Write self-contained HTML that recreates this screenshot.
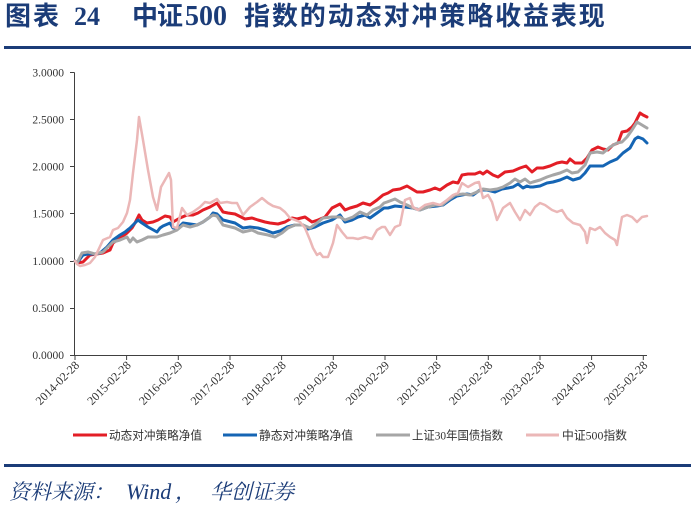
<!DOCTYPE html>
<html><head><meta charset="utf-8"><style>
html,body{margin:0;padding:0;background:#fff;}
body{width:691px;height:510px;position:relative;overflow:hidden;}
.t{position:absolute;white-space:nowrap;color:#1B3C78;font-weight:bold;font-family:"Liberation Serif","Noto Sans CJK SC",sans-serif;font-size:26px;line-height:26px;top:4px;}
.s{position:absolute;white-space:nowrap;color:#1B3C78;font-family:"Liberation Serif","Noto Serif CJK SC",serif;font-size:21px;line-height:22px;top:481px;transform:skewX(-14deg);transform-origin:0 100%;}
.si{position:absolute;white-space:nowrap;color:#1B3C78;font-style:italic;font-family:"Liberation Serif",serif;font-size:22px;line-height:22px;top:481px;}
</style></head><body>
<div class="t" style="left:5px;letter-spacing:2px;">图表</div>
<div class="t" style="left:74px;">24</div>
<div class="t" style="left:132px;letter-spacing:-1px;">中证</div>
<div class="t" style="left:185px;font-size:28px;">500</div>
<div class="t" style="left:244px;letter-spacing:1.9px;">指数的动态对冲策略收益表现</div>
<div style="position:absolute;left:4px;top:46px;width:687px;height:3px;background:#1B3C78;"></div>
<div style="position:absolute;left:4px;top:464px;width:687px;height:3px;background:#1B3C78;"></div>
<div class="s" style="left:8px;">资料来源：</div>
<div class="si" style="left:126px;">Wind</div>
<div class="s" style="left:174px;">，</div>
<div class="s" style="left:209px;">华创证券</div>
<svg width="691" height="510" style="position:absolute;left:0;top:0;" xmlns="http://www.w3.org/2000/svg">
<g stroke="#404040" stroke-width="1" fill="none">
<line x1="74.5" y1="72.5" x2="74.5" y2="355.5"/>
<line x1="74" y1="355.5" x2="647" y2="355.5"/>
<line x1="70" y1="72.5" x2="74.5" y2="72.5"/>
<line x1="70" y1="119.5" x2="74.5" y2="119.5"/>
<line x1="70" y1="166.5" x2="74.5" y2="166.5"/>
<line x1="70" y1="213.5" x2="74.5" y2="213.5"/>
<line x1="70" y1="261.5" x2="74.5" y2="261.5"/>
<line x1="70" y1="308.5" x2="74.5" y2="308.5"/>
<line x1="70" y1="355.5" x2="74.5" y2="355.5"/>
<line x1="75" y1="355" x2="75" y2="360"/>
<line x1="126.6" y1="355" x2="126.6" y2="360"/>
<line x1="178.3" y1="355" x2="178.3" y2="360"/>
<line x1="230" y1="355" x2="230" y2="360"/>
<line x1="281.6" y1="355" x2="281.6" y2="360"/>
<line x1="333.3" y1="355" x2="333.3" y2="360"/>
<line x1="385" y1="355" x2="385" y2="360"/>
<line x1="436.6" y1="355" x2="436.6" y2="360"/>
<line x1="488.3" y1="355" x2="488.3" y2="360"/>
<line x1="540" y1="355" x2="540" y2="360"/>
<line x1="591.6" y1="355" x2="591.6" y2="360"/>
<line x1="643.3" y1="355" x2="643.3" y2="360"/>
</g>
<g font-family="Liberation Serif, serif" font-size="11.5" fill="#333" text-anchor="end">
<text x="64" y="76.5">3.0000</text>
<text x="64" y="123.5">2.5000</text>
<text x="64" y="170.5">2.0000</text>
<text x="64" y="217.5">1.5000</text>
<text x="64" y="265">1.0000</text>
<text x="64" y="312">0.5000</text>
<text x="64" y="359">0.0000</text>
</g>
<g font-family="Liberation Serif, serif" font-size="12" fill="#333" text-anchor="end">
<text transform="translate(80,366) rotate(-45)">2014-02-28</text>
<text transform="translate(131.6,366) rotate(-45)">2015-02-28</text>
<text transform="translate(183.3,366) rotate(-45)">2016-02-29</text>
<text transform="translate(235,366) rotate(-45)">2017-02-28</text>
<text transform="translate(286.6,366) rotate(-45)">2018-02-28</text>
<text transform="translate(338.3,366) rotate(-45)">2019-02-28</text>
<text transform="translate(390,366) rotate(-45)">2020-02-29</text>
<text transform="translate(441.6,366) rotate(-45)">2021-02-28</text>
<text transform="translate(493.3,366) rotate(-45)">2022-02-28</text>
<text transform="translate(545,366) rotate(-45)">2023-02-28</text>
<text transform="translate(596.6,366) rotate(-45)">2024-02-29</text>
<text transform="translate(648.3,366) rotate(-45)">2025-02-28</text>
</g>
<g fill="none" stroke-linejoin="round" stroke-linecap="round">
<polyline stroke="#E31E26" stroke-width="3" points="75,261 77,263 83,262 90,255 103,253 110,250 113,243 120,238 127,233 132,228 135,223 139,215 142,220 147,223 153,222 158,220 165,216 170,217 173,222 180,218 187,215 193,215 198,213 203,210 210,207 217,203 223,212 228,213 235,214 245,219 252,218 258,220 265,222 270,223 278,224 285,222 292,218 297,219 305,217 312,222 318,220 325,217 332,208 340,204 345,210 350,208 357,206 363,203 370,205 377,200 383,195 388,193 393,190 400,189 407,186 412,189 417,192 423,192 430,190 435,188 440,190 447,185 453,182 458,183 462,175 468,174 475,174 480,172 483,174 487,171 493,175 498,177 505,172 513,171 520,168 526,166 530,170 532,172 537,168 543,168 550,166 557,163 562,162 567,163 570,159 575,163 582,163 587,158 592,150 598,147 603,149 608,150 613,145 618,143 622,132 627,131 632,127 635,123 640,113 643,115 647,117"/>
<polyline stroke="#1565B4" stroke-width="3" points="75,261 77,263 83,255 88,254 95,254 100,253 107,247 113,240 120,235 125,232 130,228 135,223 138,220 142,223 148,227 157,232 160,228 163,226 170,223 173,228 178,228 183,223 190,224 197,225 203,222 210,217 213,213 217,214 223,220 235,223 243,228 250,227 258,228 265,230 273,233 280,231 287,227 295,225 303,225 308,229 315,227 323,223 332,220 340,215 345,222 352,220 358,217 365,215 370,218 377,213 384,208 388,208 395,206 405,207 413,208 420,210 428,207 437,206 443,205 450,200 457,196 467,194 473,195 480,190 487,190 495,192 502,189 508,188 513,187 518,184 523,188 527,186 530,187 533,187 540,186 547,183 553,182 560,180 567,177 573,180 580,178 585,173 590,166 597,166 603,166 610,162 617,159 623,153 630,148 635,139 638,137 643,139 647,143"/>
<polyline stroke="#A6A6A6" stroke-width="3" points="75,261 77,263 82,253 88,252 95,254 103,252 113,242 120,240 127,237 130,242 133,238 137,242 142,240 148,237 157,237 163,235 170,233 177,230 183,225 190,227 197,225 203,222 210,217 213,215 217,216 223,225 235,228 243,232 252,230 258,233 268,235 275,237 282,233 288,228 295,225 303,225 310,228 317,223 323,218 332,217 340,217 345,220 353,217 360,212 367,215 373,210 380,207 384,203 387,202 395,199 400,202 407,205 413,208 420,210 428,207 435,205 442,205 448,200 455,195 463,194 470,195 477,192 483,189 490,190 497,189 503,187 510,183 515,179 520,182 525,179 530,183 533,182 540,180 547,177 553,175 560,173 567,170 572,173 578,172 585,165 590,153 597,152 603,153 610,147 617,143 622,142 627,137 632,130 637,122 642,125 647,128"/>
<polyline stroke="#EBB7B7" stroke-width="2.5" points="75,261 77,264 80,266 85,265 90,263 95,257 103,240 110,237 113,230 118,228 123,222 127,213 130,200 133,173 137,140 139,117 143,140 148,170 153,197 157,210 161,187 165,180 169,173 171,180 173,227 177,228 182,208 187,215 193,212 200,207 205,202 210,203 217,199 220,203 227,202 232,203 237,203 243,215 250,207 257,202 262,198 268,203 273,206 280,208 285,212 290,218 295,220 300,222 305,228 310,240 313,248 317,255 320,253 323,257 328,257 333,243 337,225 342,232 347,238 353,238 358,239 365,237 372,239 377,230 382,227 385,227 390,235 395,227 400,225 405,200 410,198 413,207 418,210 425,205 433,203 440,205 447,200 453,195 458,193 462,183 468,187 475,183 479,182 483,198 488,195 492,202 497,220 503,208 510,203 515,212 520,220 525,210 530,215 535,207 540,203 545,205 552,210 557,212 562,210 567,218 573,223 580,225 585,232 587,243 590,228 595,230 600,227 605,233 610,237 615,240 617,245 622,217 627,215 632,217 637,222 642,217 647,216"/>
</g>
<g stroke-width="3">
<line x1="73" y1="435" x2="107" y2="435" stroke="#E31E26"/>
<line x1="223" y1="435" x2="257" y2="435" stroke="#1565B4"/>
<line x1="376" y1="435" x2="410" y2="435" stroke="#A6A6A6"/>
<line x1="526" y1="435" x2="559" y2="435" stroke="#EBB7B7"/>
</g>
<g font-family="Liberation Serif, Noto Sans CJK SC, sans-serif" font-size="12" fill="#333">
<text x="109" y="439.5" textLength="93" lengthAdjust="spacingAndGlyphs">动态对冲策略净值</text>
<text x="259" y="439.5" textLength="94" lengthAdjust="spacingAndGlyphs">静态对冲策略净值</text>
<text x="412" y="439.5" textLength="91" lengthAdjust="spacingAndGlyphs">上证30年国债指数</text>
<text x="562" y="439.5" textLength="65" lengthAdjust="spacingAndGlyphs">中证500指数</text>
</g>
</svg>
</body></html>
